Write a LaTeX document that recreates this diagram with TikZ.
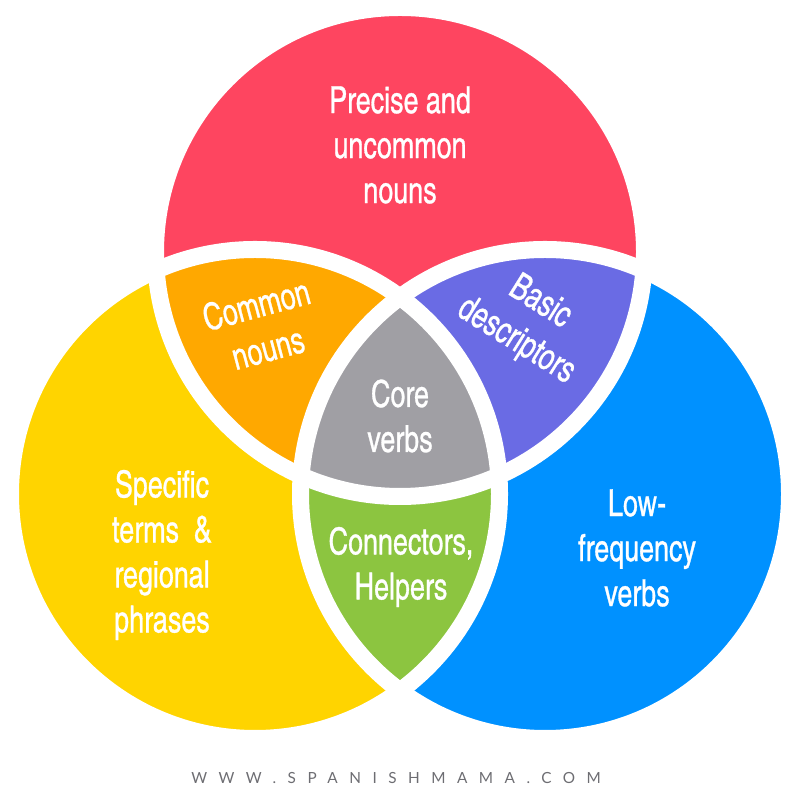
\documentclass[tikz,border=0pt]{standalone}
\usepackage{fontspec}
\usepackage{tikz}
\usepackage{xcolor}
\setmainfont{texgyreheroscn}[Extension=.otf, UprightFont=*-regular, BoldFont=*-bold, ItalicFont=*-italic, BoldItalicFont=*-bolditalic, FakeStretch=0.88, FakeBold=0.8]
\newfontfamily\footfont{Lato}[LetterSpace=75]

\definecolor{vred}{HTML}{FE4560}
\definecolor{vorange}{HTML}{FFA800}
\definecolor{vpurple}{HTML}{6A6BE4}
\definecolor{vyellow}{HTML}{FFD400}
\definecolor{vblue}{HTML}{0091FF}
\definecolor{vgray}{HTML}{A09FA4}
\definecolor{vgreen}{HTML}{8CC540}
\definecolor{vfoot}{HTML}{6D6D72}

\begin{document}
\begin{tikzpicture}[x=0.025cm, y=0.025cm,
    lbl/.style = {text=white, align=center, inner sep=0pt,
      font=\fontsize{26.5}{32}\selectfont},
    gap/.style = {draw=white, line width=0.425cm}]
  \useasboundingbox (0,0) rectangle (800,800);
  \coordinate (top) at (400,548);
  \coordinate (left) at (255,306);
  \coordinate (right) at (545,306);
  \def\rad{244.5}

  % the three circles
  \fill[vred] (top) circle (\rad);
  \fill[vyellow] (left) circle (\rad);
  \fill[vblue] (right) circle (\rad);

  % overlaps
  \begin{scope}
    \clip (top) circle (\rad);
    \fill[vorange] (left) circle (\rad);
    \fill[vpurple] (right) circle (\rad);
  \end{scope}
  \begin{scope}
    \clip (left) circle (\rad);
    \fill[vgreen] (right) circle (\rad);
    \clip (right) circle (\rad);
    \fill[vgray] (top) circle (\rad);
  \end{scope}

  % white gaps
  \draw[gap] (top) circle (\rad);
  \draw[gap] (left) circle (\rad);
  \draw[gap] (right) circle (\rad);

  \node[lbl] (precise) at (400,655) {Precise and\\uncommon\\nouns};
  \node[lbl, rotate=15] (common) at (262,474) {Common\\nouns};
  \node[lbl, rotate=-32] (basic) at (528,478) {Basic\\descriptors};
  \node[lbl] (core) at (400,384) {Core\\verbs};
  \node[lbl] (specific) at (162,245) {Specific\\terms\ \ \&\\regional\\phrases};
  \node[lbl] (conn) at (401,233) {Connectors,\\Helpers};
  \node[lbl] (low) at (637,252) {Low-\\frequency\\verbs};

  \node[text=vfoot, font=\footfont\fontsize{10.9}{13}\selectfont] (site) at (396,22) {WWW.SPANISHMAMA.COM};
\end{tikzpicture}
\end{document}
